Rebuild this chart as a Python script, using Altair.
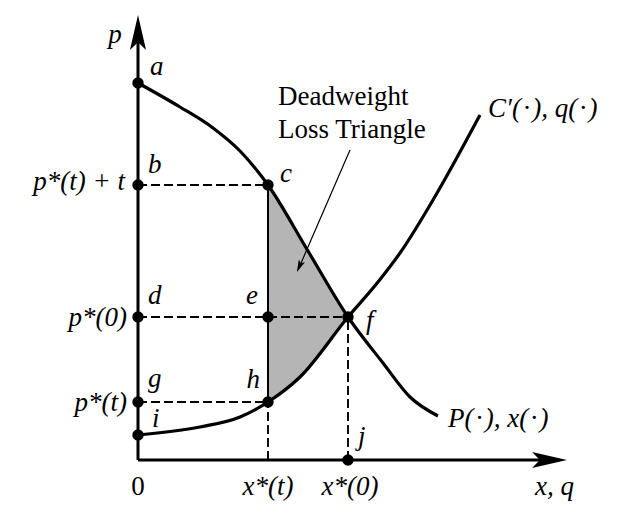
import altair as alt
import pandas as pd

# ---- values (1 unit = 10 px) ----
x_t = 13.0      # x*(t)
x_0 = 21.0      # x*(0)
p_a = 37.7      # a
p_tax = 27.5    # p*(t) + t
p_0 = 14.3      # p*(0)
p_t = 5.8       # p*(t)
p_i = 2.5       # i

demand_x = [0, 4.2, 7.5, 10.2, 13.0, 17.0, 21.0, 24.5, 27.2, 30.0]
demand_p = [37.7, 35.3, 33.2, 30.9, 27.5, 20.9, 14.3, 9.7, 6.3, 4.4]

supply_x = [0, 6.2, 10.2, 13.0, 16.2, 21.0, 24.0, 26.2, 29.5, 34.2]
supply_p = [2.5, 3.3, 4.3, 5.8, 8.3, 14.3, 17.8, 20.7, 26.0, 34.5]

dwl_x = [13.0, 15.0, 17.0, 19.0, 21.0]
dwl_top = [27.5, 24.2, 20.9, 17.6, 14.3]
dwl_bot = [5.8, 7.2, 9.0, 11.4, 14.3]

point_names = ["a", "b", "c", "d", "e", "f", "g", "h", "i", "j"]
point_x = [0, 0, x_t, 0, x_t, x_0, 0, x_t, 0, x_0]
point_y = [p_a, p_tax, p_tax, p_0, p_0, p_0, p_t, p_t, p_i, 0]

y_axis_top = 44.5
x_axis_end = 42.9

# ---- scales ----
xs = alt.Scale(domain=[-13.0, 47.8], nice=False, zero=False)
ys = alt.Scale(domain=[-6.2, 45.2], nice=False, zero=False)
X = lambda f: alt.X(f, type="quantitative", scale=xs, axis=None)
Y = lambda f: alt.Y(f, type="quantitative", scale=ys, axis=None)

FONT = "Liberation Serif"
FS = 27

layers = []

# shaded deadweight loss triangle
dwl = pd.DataFrame({"x": dwl_x, "top": dwl_top, "bot": dwl_bot})
layers.append(alt.Chart(dwl).mark_area(color="#b5b5b5", opacity=1).encode(
    x=X("x"), y=Y("top"), y2=alt.Y2("bot")))

# solid vertical edge c-h
seg_solid = pd.DataFrame({"x": [x_t], "y": [p_t], "x2": [x_t], "y2": [p_tax]})
layers.append(alt.Chart(seg_solid).mark_rule(color="black", strokeWidth=2).encode(
    x=X("x"), y=Y("y"), x2="x2", y2="y2"))

# dashed guide lines
dashed = pd.DataFrame({
    "x": [0, 0, 0, x_t, x_0],
    "y": [p_tax, p_0, p_t, 0, 0],
    "x2": [x_t, x_0, x_t, x_t, x_0],
    "y2": [p_tax, p_0, p_t, p_t, p_0],
})
layers.append(alt.Chart(dashed).mark_rule(color="black", strokeWidth=1.9, strokeDash=[9, 4]).encode(
    x=X("x"), y=Y("y"), x2="x2", y2="y2"))

# axes
axes_df = pd.DataFrame({"x": [0, 0], "y": [0, 0], "x2": [0, x_axis_end - 1.5], "y2": [y_axis_top - 1.5, 0]})
layers.append(alt.Chart(axes_df).mark_rule(color="black", strokeWidth=3).encode(
    x=X("x"), y=Y("y"), x2="x2", y2="y2"))

arrow_path = "M0,-1L0.46,1L0,0.55L-0.46,1Z"
arr_up = pd.DataFrame({"x": [0], "y": [y_axis_top - 1.75]})
layers.append(alt.Chart(arr_up).mark_point(shape=arrow_path, filled=True, size=1225, color="black",
                                           opacity=1, angle=0, strokeWidth=0).encode(x=X("x"), y=Y("y")))
arr_right = pd.DataFrame({"x": [x_axis_end - 1.75], "y": [0]})
layers.append(alt.Chart(arr_right).mark_point(shape=arrow_path, filled=True, size=1225, color="black",
                                              opacity=1, angle=90, strokeWidth=0).encode(x=X("x"), y=Y("y")))

# curves
dem = pd.DataFrame({"x": demand_x, "y": demand_p})
sup = pd.DataFrame({"x": supply_x, "y": supply_p})
layers.append(alt.Chart(dem).mark_line(color="black", strokeWidth=3.2, interpolate="monotone").encode(
    x=X("x"), y=Y("y")))
layers.append(alt.Chart(sup).mark_line(color="black", strokeWidth=3.2, interpolate="monotone").encode(
    x=X("x"), y=Y("y")))

# annotation arrow
ann = pd.DataFrame({"x": [21.2], "y": [31.0], "x2": [16.0], "y2": [19.0]})
layers.append(alt.Chart(ann).mark_rule(color="black", strokeWidth=1.2).encode(
    x=X("x"), y=Y("y"), x2="x2", y2="y2"))
ann_head = pd.DataFrame({"x": [16.14], "y": [19.35]})
layers.append(alt.Chart(ann_head).mark_point(shape="M0,-1L0.55,1L0,0.6L-0.55,1Z", filled=True, size=150,
                                             color="black", opacity=1, angle=204, strokeWidth=0).encode(
    x=X("x"), y=Y("y")))

# points
pts = pd.DataFrame({"name": point_names, "x": point_x, "y": point_y})
layers.append(alt.Chart(pts).mark_circle(color="black", size=130, opacity=1).encode(x=X("x"), y=Y("y")))

# labels: text, anchor x, anchor y, align, italic, dx, dy
HS = "\u200a"
labels = [
    ("p", 0, y_axis_top, "center", True, -23, 28),
    ("a", 0, p_a, "left", True, 12, -8),
    ("b", 0, p_tax, "left", True, 10, -12),
    ("p*(t) + t", 0, p_tax, "right", True, -13, 5),
    ("c", x_t, p_tax, "left", True, 12, -3),
    ("d", 0, p_0, "left", True, 10, -13),
    ("p*(0)", 0, p_0, "right", True, -11, 9),
    ("e", x_t, p_0, "right", True, -10, -13),
    ("f", x_0, p_0, "left", True, 18, 12),
    ("g", 0, p_t, "left", True, 10, -15),
    ("h", x_t, p_t, "right", True, -8, -14),
    ("p*(t)", 0, p_t, "right", True, -11, 9),
    ("i", 0, p_i, "left", True, 14, -8),
    ("0", 0, 0, "center", False, 0, 35),
    ("x*(t)", x_t, 0, "center", True, 0, 35),
    ("x*(0)", x_0, 0, "center", True, 2, 35),
    ("j", x_0, 0, "left", True, 10, -15),
    ("x, q", x_axis_end, 0, "left", True, -32, 35),
    ("P(" + HS + "·" + HS + "), x(" + HS + "·" + HS + ")", demand_x[-1], demand_p[-1], "left", True, 10, 11),
    ("C\u2032(" + HS + "·" + HS + "), q(" + HS + "·" + HS + ")", supply_x[-1], supply_p[-1], "left", True, 8, 2),
    ("Deadweight", 21.2, 31.0, "left", False, -72, -45),
    ("Loss Triangle", 21.2, 31.0, "left", False, -72, -12),
]
for txt, lx, ly, al, it, dx, dy in labels:
    d = pd.DataFrame({"x": [lx], "y": [ly], "t": [txt]})
    layers.append(alt.Chart(d).mark_text(
        font=FONT, fontSize=FS, fontStyle="italic" if it else "normal", align=al,
        baseline="alphabetic", dx=dx, dy=dy, color="black").encode(
        x=X("x"), y=Y("y"), text="t:N"))

chart = alt.layer(*layers).properties(
    width=608, height=514, padding=0, autosize="none"
).configure_view(stroke=None)

chart.save("out.html", embed_options={"renderer": "svg", "actions": False})
